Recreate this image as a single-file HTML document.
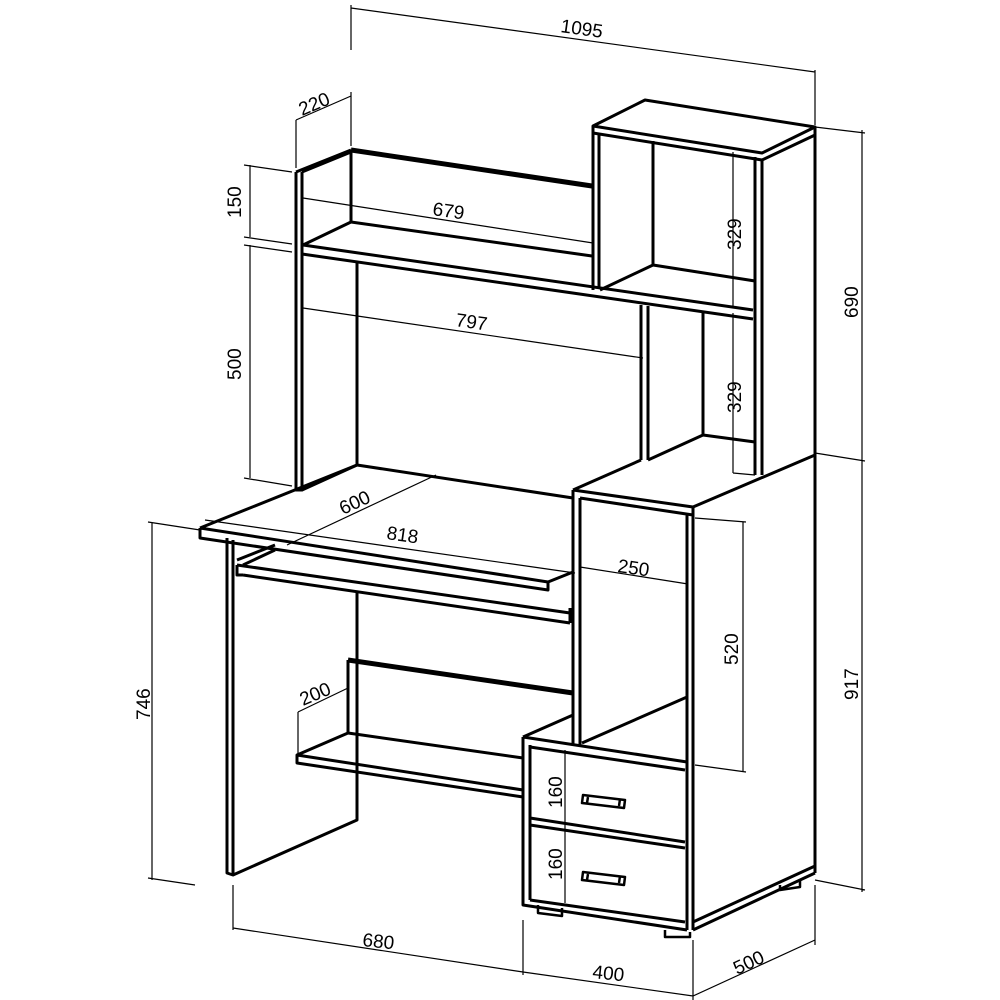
<!DOCTYPE html>
<html><head><meta charset="utf-8"><style>
html,body{margin:0;padding:0;background:#fff}
svg{display:block}
text{font-family:"Liberation Sans Narrow","Liberation Sans",sans-serif;font-size:19px;fill:#000}
</style></head><body>
<svg width="1000" height="1000" viewBox="0 0 1000 1000" xmlns="http://www.w3.org/2000/svg">
<g fill="none" stroke="#000" stroke-width="3" stroke-linejoin="round">
<!-- left hutch side -->
<path d="M296,172 L351,150 M296,172 L296,490 L302,490 L302,172 M302,172 L351,152"/>
<!-- hutch back panel -->
<path d="M351,150 L351,222" />
<path d="M351,150 L592,186" stroke-width="5"/>
<!-- hutch shelf -->
<path d="M303,245 L351,222 L592,256 M303,245 L753,310 M302,254 L753,319"/>
<!-- inner partition -->
<path d="M357,262 L357,465 M357,465 L302,490"/>
<!-- right tall unit -->
<path d="M593,126 L645,100 L815,127 L762,153 Z M593,133 L762,160 M762,160 L815,135 M815,127 L815,455"/>
<path d="M593,126 L593,290 M599,133 L599,288 M755,157 L755,475 M762,160 L762,475"/>
<path d="M653,141 L653,265 L755,281 M653,265 L600,290"/>
<path d="M641,305 L641,460 M648,306 L648,460 M703,313 L703,435 L755,442 M703,435 L648,460"/>
<!-- pedestal -->
<path d="M573,490 L641,460 M573,490 L693,507 L815,455 M580,498 L693,515 M693,507 L693,930 M687,515 L687,930 M573,490 L573,745 M580,498 L580,745 M582,743 L687,697"/>
<path d="M693,930 L815,873 M693,922 L815,866 M815,455 L815,873"/>
<!-- drawer box -->
<path d="M523,737 L573,715 M523,737 L687,762 M523,737 L523,905 L687,930 M530,745 L530,900"/>
<path d="M530,747 L685,770 M530,818 L685,842 M530,825 L685,848 M530,900 L685,922"/>
<path d="M583,795 L625,800 L624,808 L582,803 Z M588,797 L587,803 M620,799 L619,806" stroke-width="2.5"/>
<path d="M583,872 L625,877 L624,885 L582,880 Z M588,874 L587,880 M620,876 L619,883" stroke-width="2.5"/>
<path d="M538,905 L538,913 L562,916 L562,908 M665,930 L665,937 L690,937 L690,932 M780,885 L780,890 L800,887 L800,880" stroke-width="2.5"/>
<!-- desk top -->
<path d="M200,528 L357,465 L573,498 M200,528 L548,582 L573,572 M200,528 L200,538 L548,590 L548,582"/>
<!-- left leg -->
<path d="M227,538 L227,873 L233,875 L357,820 L357,592 M233,540 L233,875"/>
<!-- keyboard tray -->
<path d="M237,565 L570,613 M243,575 L570,623 M237,565 L237,575 L243,575 M237,560 L275,545 M243,565 L275,550 M570,608 L570,623"/>
<!-- lower shelf -->
<path d="M348,660 L348,733 L523,758 M348,733 L297,755 L297,763 L523,797 M297,755 L523,790"/>
<path d="M348,660 L573,693" stroke-width="5"/>
</g>
<g fill="none" stroke="#000" stroke-width="1.2">
<!-- 1095 -->
<path d="M351,5 L351,50 M815,70 L815,125 M351,8 L815,72"/>
<!-- 220 -->
<path d="M296,120 L296,168 M351,92 L351,146 M296,120 L351,96"/>
<!-- 150/500 -->
<path d="M244,165 L292,172 M244,237 L292,244 M244,245 L292,252 M244,478 L292,486 M250,165 L250,237 M250,245 L250,478"/>
<!-- 679 797 -->
<path d="M303,198 L593,243 M303,308 L643,358"/>
<!-- 600 818 -->
<path d="M287,545 L436,475 M205,520 L575,573"/>
<!-- 250 -->
<path d="M580,567 L688,584"/>
<!-- 520 -->
<path d="M695,518 L746,522 M695,765 L746,772 M743,522 L743,772"/>
<!-- 329 -->
<path d="M733,152 L733,308 M733,313 L733,473 M733,473 L755,475"/>
<!-- 690 917 -->
<path d="M815,127 L865,133 M815,453 L865,461 M815,880 L865,890 M862,130 L862,892"/>
<!-- 746 -->
<path d="M148,522 L200,530 M148,878 L195,885 M152,522 L152,880"/>
<!-- 200 -->
<path d="M298,712 L348,688 M298,712 L298,755"/>
<!-- 160 -->
<path d="M565,750 L565,903"/>
<!-- bottom dims -->
<path d="M233,885 L233,930 M523,920 L523,975 M693,940 L693,1000 M815,885 L815,945 M233,928 L523,972 L693,996 L815,940"/>
</g>
<text transform="translate(560,32) rotate(8)">1095</text>
<text transform="translate(302,116) rotate(-23)">220</text>
<text transform="translate(241,218) rotate(-90)">150</text>
<text transform="translate(241,380) rotate(-90)">500</text>
<text transform="translate(432,215) rotate(8)">679</text>
<text transform="translate(455,326) rotate(8)">797</text>
<text transform="translate(343,515) rotate(-25)">600</text>
<text transform="translate(386,539) rotate(8)">818</text>
<text transform="translate(617,572) rotate(8)">250</text>
<text transform="translate(738,665) rotate(-90)">520</text>
<text transform="translate(741,250) rotate(-90)">329</text>
<text transform="translate(741,413) rotate(-90)">329</text>
<text transform="translate(858,318) rotate(-90)">690</text>
<text transform="translate(858,700) rotate(-90)">917</text>
<text transform="translate(150,720) rotate(-90)">746</text>
<text transform="translate(303,706) rotate(-23)">200</text>
<text transform="translate(562,808) rotate(-90)">160</text>
<text transform="translate(562,880) rotate(-90)">160</text>
<text transform="translate(362,946) rotate(6)">680</text>
<text transform="translate(592,978) rotate(6)">400</text>
<text transform="translate(737,975) rotate(-25)">500</text>
</svg>
</body></html>
